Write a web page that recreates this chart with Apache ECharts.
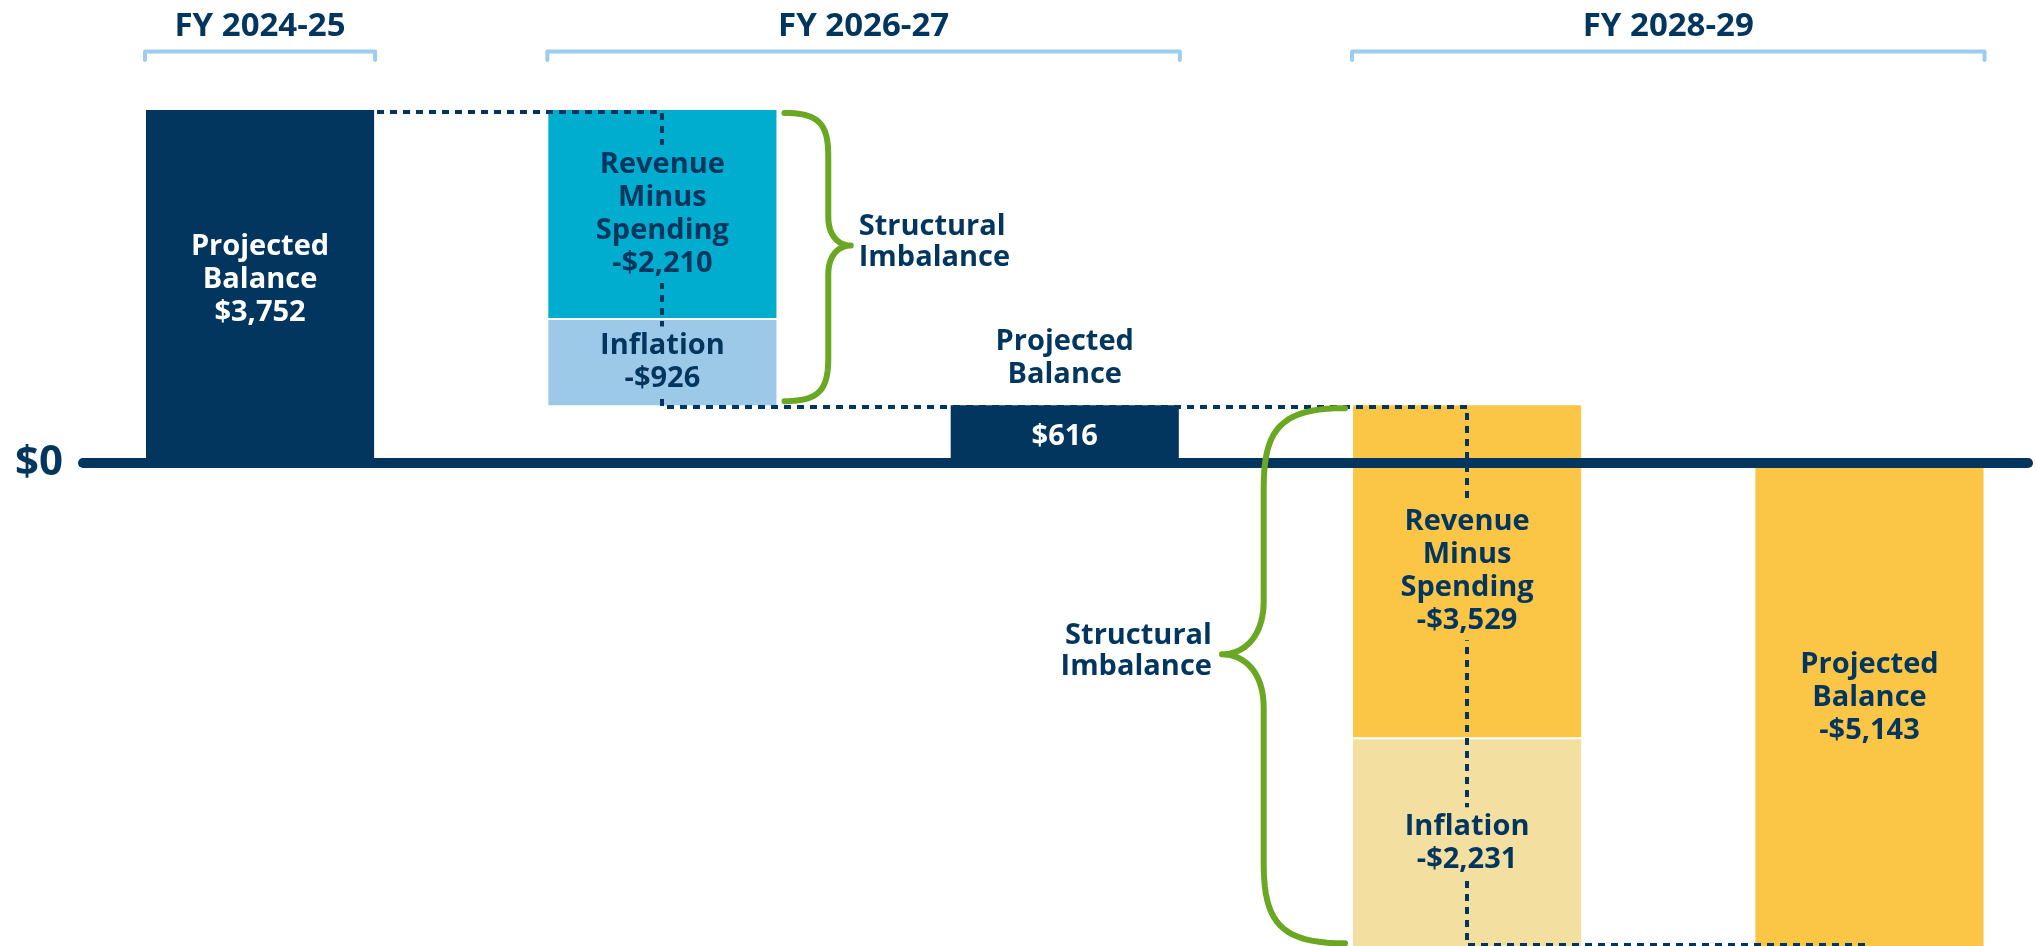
<!DOCTYPE html>
<html>
<head>
<meta charset="utf-8">
<title>Structural imbalance</title>
<script src="https://cdn.jsdelivr.net/npm/echarts@6/dist/echarts.min.js"></script>
<style>
    html, body { margin: 0; padding: 0; background: #fff; }
    #chart { width: 2036px; height: 946px; }
</style>
</head>
<body>
<div id="chart"></div>
<script>
// waterfall columns, left to right
const columns = ['FY 2024-25 balance', 'FY 2026-27 change', 'FY 2026-27 balance', 'FY 2028-29 change', 'FY 2028-29 balance'];
const projectedBalance = [3752, null, 616, null, -5143];
const revenueMinusSpending = [null, -2210, null, -3529, null];
const inflation = [null, -926, null, -2231, null];

// fiscal year headers and the columns they cover
const periods = ['FY 2024-25', 'FY 2026-27', 'FY 2028-29'];
const periodFirstCol = [0, 1, 3];
const periodLastCol = [0, 2, 4];

const NAVY = '#03365f';
const CYAN = '#00adcf';
const LIGHT_BLUE = '#9dc9e9';
const YELLOW = '#fbc545';
const LIGHT_YELLOW = '#f3dfa0';
const GREEN = '#6aa823';
const BRACKET = '#9ccdec';
const FONT = '"Open Sans", "Noto Sans", sans-serif';
const BAR_W = 0.567;          // bar width in column units
const braceSide = [1, -1];    // first brace to the right of its bar, second to the left

function fmt(v) {
    return (v < 0 ? '-' : '') + '$' + Math.abs(v).toLocaleString('en-US');
}

// build the segments, braces and the dotted connector from the arrays
const segments = [];
const braces = [];
const path = [[0, projectedBalance[0]]];
let level = 0;
columns.forEach(function (c, i) {
    if (projectedBalance[i] != null) {
        const v = projectedBalance[i];
        segments.push({col: i, from: 0, to: v, kind: 'balance',
            fill: v < 0 ? YELLOW : NAVY, textFill: v < 0 ? NAVY : '#fff',
            name: 'Projected\nBalance', value: v});
        level = v;
    } else {
        const start = level;
        const mid = start + revenueMinusSpending[i];
        const end = mid + inflation[i];
        const neg = end < 0;
        segments.push({col: i, from: start, to: mid, kind: 'rms',
            fill: neg ? YELLOW : CYAN, textFill: NAVY,
            name: 'Revenue\nMinus\nSpending', value: revenueMinusSpending[i]});
        segments.push({col: i, from: mid, to: end, kind: 'inflation',
            fill: neg ? LIGHT_YELLOW : LIGHT_BLUE, textFill: NAVY,
            name: 'Inflation', value: inflation[i]});
        braces.push({col: i, from: start, to: end});
        path.push([i, start], [i, end]);
        level = end;
    }
});
path.push([columns.length - 1, level]);

function barBox(s, api) {
    const p0 = api.coord([s.col, s.from]);
    const p1 = api.coord([s.col, s.to]);
    const w = api.size([BAR_W, 0])[0];
    let top = Math.min(p0[1], p1[1]);
    const bottom = Math.max(p0[1], p1[1]);
    if (s.kind === 'inflation') top += 2;
    return {cx: p0[0], x: p0[0] - w / 2, w: w, top: top, bottom: bottom};
}

function renderBar(params, api) {
    const s = segments[params.dataIndex];
    const b = barBox(s, api);
    return {
        type: 'rect',
        shape: {x: b.x, y: b.top, width: b.w, height: b.bottom - b.top},
        style: {fill: s.fill}
    };
}

function textStyle(text, fill, extra) {
    return Object.assign({
        text: text, fill: fill, fontFamily: FONT, fontWeight: 'bold',
        fontSize: 29, lineHeight: 33, align: 'center', verticalAlign: 'middle'
    }, extra || {});
}

function renderLabel(params, api) {
    const s = segments[params.dataIndex];
    const b = barBox(s, api);
    const h = b.bottom - b.top;
    if (s.kind === 'balance' && h < 100) {
        // short bar: name above, value inside
        return {
            type: 'group',
            children: [
                {type: 'text', style: textStyle(s.name, NAVY, {x: b.cx, y: b.top - 14, verticalAlign: 'bottom'})},
                {type: 'text', style: textStyle(fmt(s.value), s.textFill, {x: b.cx, y: (b.top + b.bottom) / 2 + 3})}
            ]
        };
    }
    const extra = {x: b.cx, y: (b.top + b.bottom) / 2 + (s.kind === 'balance' ? -7 : 0)};
    if (s.kind !== 'balance') {
        extra.backgroundColor = s.fill;
        extra.padding = [3, 6];
    }
    return {type: 'text', style: textStyle(s.name + '\n' + fmt(s.value), s.textFill, extra)};
}

function renderConnector(params, api) {
    const pts = path.map(function (p) {
        const c = api.coord(p);
        c[0] = Math.round(c[0]);
        c[1] = Math.round(c[1]) + (p[1] > 0 ? 2 : -2);
        return c;
    });
    return {
        type: 'polyline',
        shape: {points: pts},
        style: {stroke: NAVY, lineWidth: 4, lineDash: [7, 6], fill: null}
    };
}

function cubic(pts, p0, p1, p2, p3) {
    for (let t = 0; t <= 1.0001; t += 0.05) {
        const u = 1 - t;
        pts.push([
            u * u * u * p0[0] + 3 * u * u * t * p1[0] + 3 * u * t * t * p2[0] + t * t * t * p3[0],
            u * u * u * p0[1] + 3 * u * u * t * p1[1] + 3 * u * t * t * p2[1] + t * t * t * p3[1]
        ]);
    }
}

function renderBrace(params, api) {
    const br = braces[params.dataIndex];
    const d = braceSide[params.dataIndex];
    const w = api.size([BAR_W, 0])[0];
    const cx = api.coord([br.col, 0])[0];
    const x0 = cx + d * (w / 2 + 8);
    const y0 = api.coord([br.col, br.from])[1] + 3;
    const y1 = api.coord([br.col, br.to])[1] - 4;
    const h = y1 - y0;
    const a = 0.152 * h, b = 0.078 * h;
    const xs = x0 + d * a, xt = xs + d * b, ym = y0 + 0.46 * h;
    const pts = [];
    cubic(pts, [x0, y0], [x0 + d * a * 0.8, y0], [xs, y0 + 0.04 * h], [xs, y0 + 0.15 * h]);
    cubic(pts, [xs, ym - 0.1 * h], [xs, ym - 0.03 * h], [xs + d * b * 0.5, ym], [xt, ym]);
    cubic(pts, [xt, ym], [xs + d * b * 0.5, ym], [xs, ym + 0.03 * h], [xs, ym + 0.1 * h]);
    cubic(pts, [xs, y1 - 0.15 * h], [xs, y1 - 0.04 * h], [x0 + d * a * 0.8, y1], [x0, y1]);
    return {
        type: 'group',
        children: [
            {type: 'polyline', shape: {points: pts},
             style: {stroke: GREEN, lineWidth: 6, fill: null, lineCap: 'round', lineJoin: 'round'}},
            {type: 'text', style: textStyle('Structural\nImbalance', NAVY, {
                x: d > 0 ? xt + 8 : xt - 10, y: ym - 3, align: d > 0 ? 'left' : 'right', lineHeight: 31})}
        ]
    };
}

function renderPeriod(params, api) {
    const i = params.dataIndex;
    const w = api.size([BAR_W, 0])[0];
    const x0 = api.coord([periodFirstCol[i], 0])[0] - w / 2 - 1;
    const x1 = api.coord([periodLastCol[i], 0])[0] + w / 2 + 1;
    return {
        type: 'group',
        children: [
            {type: 'polyline', shape: {points: [[x0, 60], [x0, 51.5], [x1, 51.5], [x1, 60]]},
             style: {stroke: BRACKET, lineWidth: 4, fill: null, lineCap: 'round', lineJoin: 'round'}},
            {type: 'text', style: textStyle(periods[i], NAVY, {x: (x0 + x1) / 2, y: 27, fontSize: 33})}
        ]
    };
}

const myChart = echarts.init(document.getElementById('chart'));
const option = {
    animation: false,
    backgroundColor: '#fff',
    grid: {left: 83, right: 8, top: 0, bottom: 0, containLabel: false, outerBoundsMode: 'none'},
    xAxis: {
        type: 'value',
        min: -0.44,
        max: 4.394,
        z: 2,
        axisLine: {show: true, onZero: true, lineStyle: {color: NAVY, width: 10, cap: 'round'}},
        axisTick: {show: false},
        axisLabel: {show: false},
        splitLine: {show: false}
    },
    yAxis: {
        type: 'value',
        min: -5130,
        max: 4920,
        axisLine: {show: false},
        axisTick: {show: false},
        splitLine: {show: false},
        axisLabel: {
            margin: 20,
            color: NAVY,
            fontFamily: FONT,
            fontWeight: 'bold',
            fontSize: 42,
            formatter: function (v) { return v === 0 ? '$0' : ''; }
        }
    },
    series: [
        {type: 'custom', name: 'bars', z: 1, renderItem: renderBar,
         data: segments.map(function (s) { return [s.col, s.to]; })},
        {type: 'custom', name: 'connector', z: 3, renderItem: renderConnector, data: [[0, 0]]},
        {type: 'custom', name: 'labels', z: 4, renderItem: renderLabel,
         data: segments.map(function (s) { return [s.col, s.to]; })},
        {type: 'custom', name: 'braces', z: 4, renderItem: renderBrace,
         data: braces.map(function (b) { return [b.col, b.to]; })},
        {type: 'custom', name: 'periods', z: 4, renderItem: renderPeriod,
         data: periods.map(function (p, i) { return [periodFirstCol[i], 0]; })}
    ]
};
myChart.setOption(option, true);
window.addEventListener('resize', function () { myChart.resize(); });
</script>
</body>
</html>
